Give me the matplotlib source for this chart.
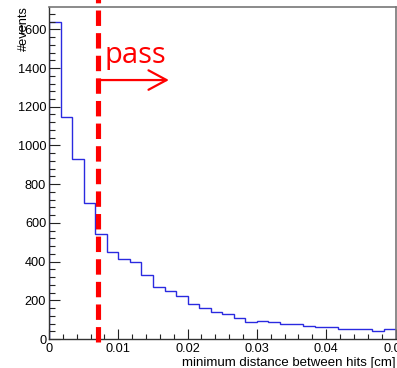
import numpy as np
import matplotlib
matplotlib.use("Agg")
import matplotlib.pyplot as plt
from matplotlib.ticker import MultipleLocator

# data
bin_edges = np.linspace(0.0, 0.05, 31)
counts = [1637, 1146, 930, 701, 541, 451, 412, 400, 331, 270,
          248, 222, 183, 162, 137, 128, 109, 88, 91, 86,
          76, 80, 67, 60, 64, 53, 50, 53, 40, 50]
xtick_vals = [0, 0.01, 0.02, 0.03, 0.04, 0.05]
xtick_labels = ["0", "0.01", "0.02", "0.03", "0.04", "0.05"]
ytick_vals = [0, 200, 400, 600, 800, 1000, 1200, 1400, 1600]
cut_value = 0.007
arrow_end = 0.0173
arrow_y = 1338
pass_label = "pass"

plt.rcParams['font.family'] = ['Liberation Sans', 'DejaVu Sans']

fig = plt.figure(figsize=(3.97, 3.68), dpi=100)
ax = fig.add_axes([49/397, 29/368, (395.5-49)/397, (339-6.5)/368])

ax.stairs(counts, bin_edges, color='#2a2ae0', linewidth=1.0)

ax.set_xlim(0, 0.05)
ax.set_ylim(0, 1718)

ax.set_xticks(xtick_vals)
ax.set_xticklabels(xtick_labels)
ax.set_yticks(ytick_vals)
ax.xaxis.set_minor_locator(MultipleLocator(0.002))
ax.yaxis.set_minor_locator(MultipleLocator(40))

ax.tick_params(axis='both', which='both', direction='in', colors='#222222',
               labelcolor='black', labelsize=9.2, width=0.8)
ax.tick_params(axis='y', which='major', length=8.2, pad=2)
ax.tick_params(axis='y', which='minor', length=4.3)
ax.tick_params(axis='x', which='major', length=7.4, pad=3)
ax.tick_params(axis='x', which='minor', length=3.7)

for side in ['left', 'bottom']:
    ax.spines[side].set_color('#333333')
    ax.spines[side].set_linewidth(1.0)
for side in ['top', 'right']:
    ax.spines[side].set_color('#777777')
    ax.spines[side].set_linewidth(1.2)

ax.set_xlabel("minimum distance between hits [cm]", fontsize=9.5, loc='right', labelpad=1)
ax.set_ylabel("#events", fontsize=9.2, loc='top', labelpad=-8.5)

# cut line
trans = ax.get_xaxis_transform()
ax.plot([cut_value, cut_value], [-0.01, 1.03], transform=trans, color='#ff0000',
        linewidth=3.7, dashes=(3.0, 1.4), clip_on=False, zorder=5)

ax.annotate("", xy=(arrow_end, arrow_y), xytext=(cut_value, arrow_y),
            arrowprops=dict(arrowstyle="->,head_length=1.3,head_width=0.7",
                            color='#ff0000', linewidth=1.6, mutation_scale=10,
                            shrinkA=0, shrinkB=0), zorder=6)
ax.text(0.00805, 1426, pass_label, color='#ff0000', fontsize=21,
        family=['Open Sans', 'DejaVu Sans'], ha='left', va='baseline', zorder=6)

fig.savefig("out.png", dpi=100)
